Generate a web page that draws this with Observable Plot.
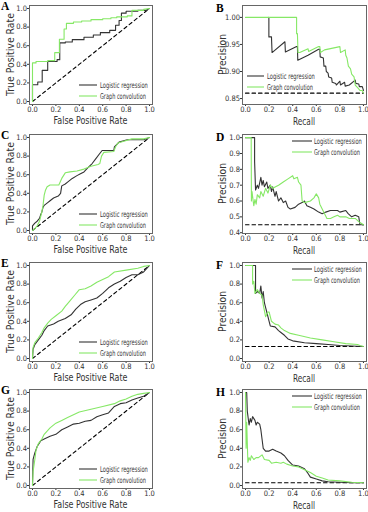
<!DOCTYPE html>
<html><head><meta charset="utf-8">
<script src="https://cdn.jsdelivr.net/npm/d3@7"></script>
<script src="https://cdn.jsdelivr.net/npm/@observablehq/plot@0.6"></script>
<style>
body{margin:0;background:#fff;}
#wrap{position:relative;width:368px;height:512px;overflow:hidden;background:#fff;}
#wrap svg{position:absolute;}
</style></head><body><div id="wrap"></div>
<script>
// ---------- data ----------
const xTicks = [0, 0.2, 0.4, 0.6, 0.8, 1.0];
const unitTicks = [0, 0.2, 0.4, 0.6, 0.8, 1.0];
const bTicks = [0.85, 0.90, 0.95, 1.00];
const dTicks = [0.4, 0.5, 0.6, 0.7, 0.8, 0.9, 1.0];
const seriesNames = ["Logistic regression", "Graph convolution"];
const chanceDiag = [[0, 0], [1, 1]];
const baseB = 0.86, baseD = 0.45, baseF = 0.13, baseH = 0.03;

const aLog = [[0,0],[0,0.18],[0.045,0.18],[0.045,0.21],[0.083,0.21],[0.083,0.335],[0.13,0.335],[0.13,0.43],[0.21,0.43],[0.21,0.45],[0.233,0.45],[0.233,0.63],[0.28,0.63],[0.28,0.64],[0.34,0.64],[0.34,0.665],[0.44,0.665],[0.44,0.69],[0.52,0.69],[0.52,0.715],[0.58,0.715],[0.58,0.74],[0.66,0.74],[0.66,0.765],[0.71,0.765],[0.71,0.82],[0.74,0.82],[0.74,0.87],[0.76,0.87],[0.76,0.95],[0.80,0.95],[0.80,0.97],[0.90,0.97],[0.90,0.98],[0.97,0.98],[1,1]];
const aGcn = [[0,0],[0,0.415],[0.03,0.415],[0.03,0.43],[0.13,0.43],[0.13,0.44],[0.19,0.44],[0.19,0.525],[0.23,0.525],[0.23,0.67],[0.27,0.67],[0.27,0.78],[0.29,0.78],[0.29,0.84],[0.35,0.84],[0.35,0.855],[0.42,0.855],[0.42,0.865],[0.50,0.865],[0.50,0.88],[0.60,0.88],[0.60,0.89],[0.67,0.89],[0.67,0.90],[0.72,0.90],[0.72,0.91],[0.81,0.91],[0.81,0.92],[0.85,0.92],[0.85,0.98],[0.95,0.98],[0.95,0.99],[1,1]];

const bLog = [[0.198,1.0],[0.198,0.964],[0.22,0.964],[0.225,0.935],[0.334,0.955],[0.338,0.936],[0.433,0.946],[0.44,0.946],[0.443,0.921],[0.53,0.930],[0.62,0.941],[0.63,0.941],[0.633,0.927],[0.66,0.925],[0.665,0.91],[0.68,0.91],[0.685,0.90],[0.70,0.897],[0.705,0.89],[0.73,0.888],[0.735,0.88],[0.765,0.878],[0.77,0.875],[0.80,0.882],[0.805,0.875],[0.84,0.88],[0.845,0.873],[0.88,0.875],[0.93,0.884],[0.935,0.878],[0.96,0.877],[0.965,0.872],[0.99,0.872],[1.0,0.865]];
const bGcn = [[0,1.0],[0.433,1.0],[0.433,0.970],[0.44,0.970],[0.445,0.935],[0.46,0.935],[0.53,0.942],[0.535,0.937],[0.62,0.946],[0.63,0.946],[0.635,0.935],[0.67,0.940],[0.80,0.946],[0.805,0.935],[0.845,0.940],[0.85,0.93],[0.86,0.925],[0.872,0.91],[0.89,0.905],[0.90,0.895],[0.92,0.89],[0.93,0.875],[0.95,0.87],[0.97,0.865],[0.99,0.865],[1.0,0.86]];

const cLog = [[0,0],[0,0.05],[0.02,0.08],[0.04,0.1],[0.06,0.13],[0.07,0.17],[0.08,0.2],[0.09,0.25],[0.1,0.27],[0.13,0.3],[0.15,0.32],[0.18,0.35],[0.22,0.37],[0.24,0.4],[0.25,0.48],[0.28,0.5],[0.3,0.52],[0.34,0.56],[0.38,0.59],[0.41,0.61],[0.44,0.63],[0.47,0.67],[0.51,0.72],[0.54,0.77],[0.57,0.82],[0.595,0.86],[0.695,0.86],[0.70,0.9],[0.74,0.95],[0.81,0.975],[0.95,0.975],[1,1]];
const cGcn = [[0,0],[0.02,0.02],[0.04,0.05],[0.06,0.1],[0.07,0.15],[0.08,0.2],[0.09,0.27],[0.1,0.38],[0.11,0.43],[0.125,0.47],[0.15,0.49],[0.225,0.49],[0.25,0.56],[0.28,0.62],[0.32,0.63],[0.38,0.64],[0.44,0.66],[0.5,0.69],[0.56,0.71],[0.575,0.72],[0.59,0.8],[0.61,0.84],[0.695,0.85],[0.71,0.9],[0.73,0.94],[0.78,0.96],[0.85,0.985],[0.95,0.985],[1,1]];

const dLog = [[0,1.0],[0.077,1.0],[0.077,0.85],[0.085,0.67],[0.1,0.7],[0.11,0.68],[0.13,0.75],[0.14,0.7],[0.15,0.73],[0.16,0.69],[0.18,0.72],[0.19,0.68],[0.21,0.7],[0.22,0.66],[0.23,0.69],[0.25,0.63],[0.26,0.66],[0.28,0.6],[0.30,0.62],[0.32,0.59],[0.34,0.6],[0.36,0.56],[0.38,0.55],[0.42,0.56],[0.45,0.58],[0.48,0.59],[0.5,0.6],[0.52,0.57],[0.55,0.56],[0.58,0.55],[0.62,0.53],[0.65,0.52],[0.68,0.53],[0.72,0.54],[0.78,0.54],[0.8,0.53],[0.85,0.54],[0.87,0.52],[0.9,0.5],[0.93,0.51],[0.96,0.5],[0.97,0.45],[1.0,0.45]];
const dGcn = [[0,1.0],[0.048,1.0],[0.05,0.6],[0.055,0.66],[0.07,0.57],[0.08,0.61],[0.09,0.58],[0.1,0.64],[0.12,0.62],[0.13,0.66],[0.15,0.63],[0.17,0.68],[0.19,0.65],[0.21,0.7],[0.23,0.68],[0.28,0.7],[0.32,0.72],[0.36,0.74],[0.40,0.76],[0.41,0.74],[0.44,0.75],[0.45,0.72],[0.47,0.70],[0.48,0.6],[0.50,0.59],[0.55,0.6],[0.58,0.62],[0.60,0.645],[0.62,0.62],[0.63,0.58],[0.65,0.55],[0.67,0.52],[0.69,0.49],[0.72,0.49],[0.75,0.5],[0.78,0.51],[0.8,0.5],[0.85,0.5],[0.88,0.49],[0.93,0.49],[0.96,0.47],[0.98,0.46],[1.0,0.45]];

const eLog = [[0,0],[0.005,0.1],[0.02,0.15],[0.05,0.2],[0.08,0.25],[0.1,0.3],[0.13,0.35],[0.18,0.37],[0.22,0.4],[0.28,0.43],[0.33,0.47],[0.37,0.53],[0.41,0.58],[0.45,0.61],[0.5,0.63],[0.55,0.65],[0.6,0.7],[0.65,0.76],[0.7,0.8],[0.75,0.83],[0.8,0.87],[0.85,0.9],[0.9,0.9],[0.95,0.93],[1,1]];
const eGcn = [[0,0],[0.005,0.12],[0.02,0.17],[0.05,0.22],[0.08,0.28],[0.1,0.33],[0.13,0.38],[0.16,0.42],[0.2,0.46],[0.25,0.51],[0.28,0.56],[0.32,0.62],[0.36,0.68],[0.4,0.74],[0.45,0.75],[0.5,0.78],[0.55,0.82],[0.6,0.85],[0.65,0.88],[0.7,0.93],[0.8,0.95],[0.9,0.97],[0.95,0.99],[1,1]];

const fLog = [[0,1.0],[0.085,1.0],[0.085,0.7],[0.1,0.72],[0.12,0.7],[0.13,0.78],[0.14,0.65],[0.15,0.72],[0.16,0.6],[0.17,0.55],[0.18,0.5],[0.19,0.45],[0.2,0.4],[0.21,0.35],[0.25,0.34],[0.28,0.3],[0.3,0.28],[0.33,0.25],[0.36,0.21],[0.4,0.19],[0.5,0.17],[0.6,0.16],[0.7,0.15],[0.8,0.14],[0.9,0.135],[1.0,0.13]];
const fGcn = [[0,1.0],[0.06,1.0],[0.06,0.8],[0.07,0.83],[0.08,0.7],[0.1,0.74],[0.12,0.7],[0.14,0.68],[0.15,0.58],[0.17,0.45],[0.19,0.5],[0.2,0.5],[0.22,0.4],[0.25,0.37],[0.28,0.36],[0.3,0.33],[0.33,0.3],[0.38,0.27],[0.45,0.25],[0.55,0.22],[0.65,0.2],[0.75,0.18],[0.85,0.16],[0.95,0.15],[0.97,0.14],[1.0,0.13]];

const gLog = [[0,0],[0.005,0.28],[0.02,0.35],[0.04,0.42],[0.07,0.48],[0.1,0.5],[0.15,0.53],[0.2,0.55],[0.25,0.6],[0.3,0.63],[0.35,0.66],[0.4,0.67],[0.45,0.69],[0.5,0.7],[0.55,0.74],[0.6,0.76],[0.65,0.78],[0.7,0.85],[0.75,0.88],[0.8,0.89],[0.85,0.92],[0.9,0.94],[0.95,0.96],[1,1]];
const gGcn = [[0,0],[0.005,0.15],[0.02,0.28],[0.03,0.38],[0.05,0.45],[0.08,0.5],[0.1,0.55],[0.15,0.62],[0.2,0.67],[0.25,0.7],[0.3,0.73],[0.4,0.79],[0.5,0.82],[0.6,0.85],[0.7,0.88],[0.75,0.91],[0.8,0.93],[0.85,0.96],[0.9,0.98],[0.95,0.99],[1,1]];

const hLog = [[0,1.0],[0.01,1.0],[0.015,0.8],[0.03,0.65],[0.04,0.72],[0.05,0.68],[0.06,0.74],[0.08,0.7],[0.09,0.65],[0.1,0.68],[0.12,0.66],[0.13,0.6],[0.14,0.5],[0.15,0.4],[0.17,0.37],[0.2,0.37],[0.23,0.39],[0.26,0.37],[0.3,0.35],[0.33,0.32],[0.36,0.27],[0.4,0.22],[0.45,0.21],[0.5,0.18],[0.53,0.13],[0.55,0.09],[0.6,0.07],[0.65,0.05],[0.7,0.04],[0.8,0.035],[0.9,0.03],[1.0,0.03]];
const hGcn = [[0,1.0],[0.005,0.4],[0.01,0.68],[0.02,0.25],[0.03,0.3],[0.04,0.27],[0.05,0.32],[0.07,0.28],[0.09,0.3],[0.11,0.3],[0.14,0.33],[0.16,0.28],[0.2,0.27],[0.22,0.24],[0.26,0.25],[0.3,0.24],[0.32,0.25],[0.35,0.23],[0.4,0.21],[0.45,0.2],[0.5,0.17],[0.55,0.14],[0.6,0.1],[0.65,0.08],[0.7,0.06],[0.8,0.05],[0.9,0.035],[1.0,0.03]];

// ---------- layout / style ----------
const DARK = "#333333", GREEN = "#86e866";
const rowTops = [0, 129, 257, 384];
const unitDom = [-0.032, 1.032];
const panels = [
  {id:"A", col:0, row:0, roc:true, log:aLog, gcn:aGcn, yTicks:unitTicks, yFmt:".1f", yDom:unitDom, leg:"br"},
  {id:"B", col:1, row:0, roc:false, base:baseB, log:bLog, gcn:bGcn, yTicks:bTicks, yFmt:".2f", yDom:[0.839, 1.022], leg:"b"},
  {id:"C", col:0, row:1, roc:true, log:cLog, gcn:cGcn, yTicks:unitTicks, yFmt:".1f", yDom:unitDom, leg:"br"},
  {id:"D", col:1, row:1, roc:false, base:baseD, log:dLog, gcn:dGcn, yTicks:dTicks, yFmt:".1f", yDom:[0.395, 1.02], leg:"tr"},
  {id:"E", col:0, row:2, roc:true, log:eLog, gcn:eGcn, yTicks:unitTicks, yFmt:".1f", yDom:unitDom, leg:"br"},
  {id:"F", col:1, row:2, roc:false, base:baseF, log:fLog, gcn:fGcn, yTicks:unitTicks, yFmt:".1f", yDom:unitDom, leg:"tr"},
  {id:"G", col:0, row:3, roc:true, log:gLog, gcn:gGcn, yTicks:unitTicks, yFmt:".1f", yDom:unitDom, leg:"br"},
  {id:"H", col:1, row:3, roc:false, base:baseH, log:hLog, gcn:hGcn, yTicks:unitTicks, yFmt:".1f", yDom:unitDom, leg:"tr"}
];
const NARROW = "'Liberation Sans Narrow','DejaVu Sans Condensed',sans-serif";
const wrap = document.getElementById("wrap");

// text squeezed horizontally to a target width (the reference uses a very condensed face)
function addText(svg, str, x, y, size, len, opts = {}) {
  const t = d3.select(svg).append("text")
    .attr("x", 0).attr("y", 0)
    .attr("font-family", opts.family || NARROW)
    .attr("font-size", size)
    .attr("font-weight", opts.weight || "normal")
    .attr("fill", opts.fill || "#333")
    .attr("text-anchor", opts.anchor || "middle")
    .text(str);
  let sx = 1;
  if (len) {
    const w = t.node().getComputedTextLength();
    if (w > 0) sx = len / w;
  }
  const rot = opts.rotate ? " rotate(-90)" : "";
  t.attr("transform", `translate(${x},${y})${rot} scale(${sx},1)`);
  return t;
}

for (const p of panels) {
  const left = p.col === 0;
  const mL = left ? 29 : 58, mR = left ? 32 : 2;
  const W = 184, H = 128, mT = 5, mB = 24;
  const marks = [];
  if (p.roc) {
    marks.push(Plot.line(chanceDiag, {stroke: "#000", strokeWidth: 1.1, strokeDasharray: "3.5,3"}));
  } else {
    marks.push(Plot.line([[0, p.base], [1, p.base]], {stroke: "#000", strokeWidth: 1.1, strokeDasharray: "3.5,3"}));
  }
  marks.push(Plot.line(p.log, {stroke: DARK, strokeWidth: 1.1}));
  marks.push(Plot.line(p.gcn, {stroke: GREEN, strokeWidth: 1.1}));
  marks.push(Plot.frame({stroke: "#666", strokeWidth: 1}));
  const svg = Plot.plot({
    width: W, height: H,
    marginLeft: mL, marginRight: mR, marginTop: mT, marginBottom: mB,
    x: {domain: [-0.0256, 1.0256], ticks: xTicks, tickFormat: d3.format(".1f"), tickSize: 2, tickPadding: 0, label: null},
    y: {domain: p.yDom, ticks: p.yTicks, tickFormat: d3.format(p.yFmt), tickSize: 2, tickPadding: 0.5, label: null},
    style: {fontFamily: NARROW, fontSize: "7.5px", color: "#333", background: "white", overflow: "visible"},
    marks
  });
  svg.style.left = (left ? 0 : 184) + "px";
  svg.style.top = rowTops[p.row] + "px";
  wrap.appendChild(svg);

  const fx0 = mL, fx1 = W - mR, fcx = (fx0 + fx1) / 2, fcy = (mT + H - mB) / 2;
  // axis labels
  if (p.roc) {
    addText(svg, "False Positive Rate", fcx, 124, 11, 74);
    addText(svg, "True Positive Rate", 13.5, fcy, 11, 83, {rotate: true});
  } else {
    addText(svg, "Recall", fcx, 124.5, 11, 22);
    addText(svg, "Precision", 41.5, fcy, 11, 41, {rotate: true});
  }
  // panel letter
  addText(svg, p.id, left ? 1 : 32, left ? 10 : 12, 11.5, null, {family: "'Liberation Serif',serif", weight: "bold", anchor: "start", fill: "#000"});
  // legend
  let lx0, lx1, tx, r1, r2;
  if (p.leg === "br") { lx0 = 79; lx1 = 97; tx = 100; r1 = 85; r2 = 96; }
  else if (p.leg === "b") { lx0 = 63; lx1 = 80; tx = 83; r1 = 76; r2 = 87; }
  else { lx0 = 108; lx1 = 128; tx = 130; r1 = 12; r2 = 23; }
  const g = d3.select(svg).append("g");
  [[DARK, r1, seriesNames[0], 48], [GREEN, r2, seriesNames[1], 46]].forEach(([c, ry, name, len]) => {
    g.append("line").attr("x1", lx0).attr("x2", lx1).attr("y1", ry).attr("y2", ry).attr("stroke", c).attr("stroke-width", 1.1);
    addText(svg, name, tx, ry + 2.8, 8, len, {anchor: "start"});
  });
}
</script></body></html>
